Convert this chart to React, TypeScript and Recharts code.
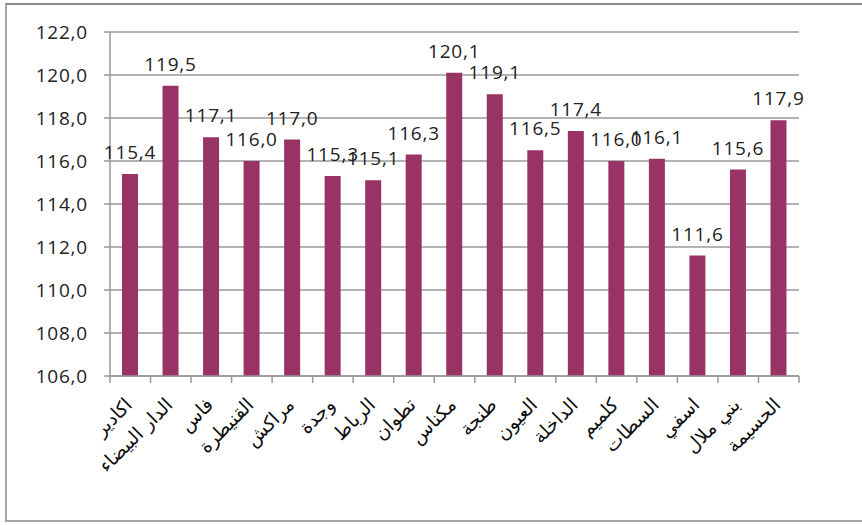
import React from 'react';
import { BarChart, Bar, XAxis, YAxis, CartesianGrid, LabelList } from 'recharts';

const cities: string[] = [
  'اكادير',
  'الدار البيضاء',
  'فاس',
  'القنيطرة',
  'مراكش',
  'وجدة',
  'الرباط',
  'تطوان',
  'مكناس',
  'طنجة',
  'العيون',
  'الداخلة',
  'كلميم',
  'السطات',
  'اسفي',
  'بني ملال',
  'الحسيمة',
];

const values: number[] = [
  115.4, 119.5, 117.1, 116.0, 117.0, 115.3, 115.1, 116.3, 120.1, 119.1, 116.5, 117.4, 116.0, 116.1, 111.6, 115.6, 117.9,
];

const yTicks: number[] = [106, 108, 110, 112, 114, 116, 118, 120, 122];

const data = cities.map((c, i) => ({ city: c, value: values[i] }));

const W = 862;
const H = 525;
const M = { top: 32, right: 63, bottom: 9, left: 0 };
const Y_AXIS_W = 110;
const X_AXIS_H = 140;
const PLOT_W = W - M.left - M.right - Y_AXIS_W;
const STEP = PLOT_W / cities.length;

const fmt = (v: number) => v.toFixed(1).replace('.', ',');

const NUM_FONT = '"Open Sans", sans-serif';

const CityTick = (props: any) => {
  const { x, y, payload, index } = props;
  const axisY = y - 8;
  return (
    <g>
      <line x1={x - STEP / 2} x2={x - STEP / 2} y1={axisY} y2={axisY + 7} stroke="#999" strokeWidth={1.5} />
      {index === cities.length - 1 && (
        <line x1={x + STEP / 2} x2={x + STEP / 2} y1={axisY} y2={axisY + 7} stroke="#999" strokeWidth={1.5} />
      )}
      <g transform={`translate(${x + 3},${axisY + 30})`}>
        <text
          transform="rotate(-45)"
          textAnchor="end"
          fontFamily='"DejaVu Sans", sans-serif'
          fontSize={19}
          fill="#111"
        >
          {payload.value}
        </text>
      </g>
    </g>
  );
};

export default function App() {
  return (
    <div style={{ position: 'absolute', left: 0, top: 0, width: W, height: H, background: '#fff' }}>
      <div
        style={{
          position: 'absolute',
          left: 5,
          top: 3,
          width: W - 5,
          height: 519,
          borderLeft: '2px solid #a6a6a6',
          borderTop: '2px solid #8c8c8c',
          borderBottom: '2px solid #a6a6a6',
          boxSizing: 'border-box',
        }}
      />
      <div style={{ position: 'absolute', left: 0, top: 0 }}>
        <BarChart width={W} height={H} data={data} margin={M} barCategoryGap={0}>
          <CartesianGrid vertical={false} stroke="#9a9a9a" strokeWidth={1.5} />
          <XAxis
            dataKey="city"
            interval={0}
            height={X_AXIS_H}
            stroke="#999"
            strokeWidth={1.5}
            tickLine={false}
            tick={<CityTick />}
          />
          <YAxis
            width={Y_AXIS_W}
            domain={[106, 122]}
            ticks={yTicks}
            interval={0}
            tickFormatter={fmt}
            stroke="#999"
            strokeWidth={1.5}
            tickSize={6}
            tickMargin={16}
            tick={{ fill: '#222', fontSize: 19, fontFamily: NUM_FONT, letterSpacing: 0.8 }}
            allowDataOverflow
          />
          <Bar dataKey="value" fill="#993366" barSize={16} isAnimationActive={false}>
            <LabelList
              dataKey="value"
              position="top"
              offset={15}
              formatter={(v: any) => fmt(Number(v))}
              style={{ fill: '#222', fontSize: 19, fontFamily: NUM_FONT, letterSpacing: 0.8 }}
            />
          </Bar>
        </BarChart>
      </div>
    </div>
  );
}
